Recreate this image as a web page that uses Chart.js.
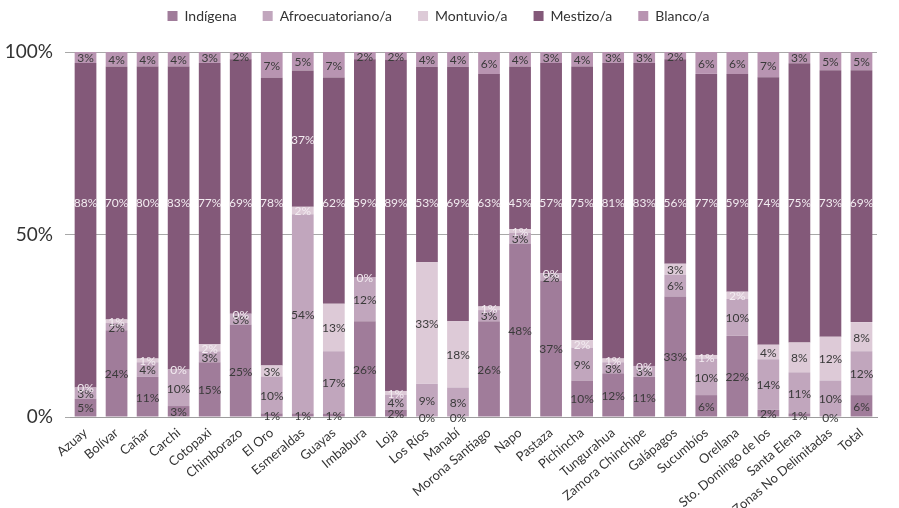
<!DOCTYPE html>
<html>
<head>
<meta charset="utf-8">
<script src="https://cdn.jsdelivr.net/npm/chart.js@4.4.0/dist/chart.umd.min.js"></script>
<style>
    html, body { margin: 0; padding: 0; background: #fff; }
    #wrap { width: 899px; height: 508px; }
</style>
</head>
<body>
<div id="wrap"><canvas id="chart"></canvas></div>
<script>
    "use strict";

    var provincias = ["Azuay", "Bolívar", "Cañar", "Carchi", "Cotopaxi", "Chimborazo", "El Oro", "Esmeraldas",
        "Guayas", "Imbabura", "Loja", "Los Ríos", "Manabí", "Morona Santiago", "Napo", "Pastaza", "Pichincha",
        "Tungurahua", "Zamora Chinchipe", "Galápagos", "Sucumbíos", "Orellana", "Sto. Domingo de los",
        "Santa Elena", "Zonas No Delimitadas", "Total"];

    var indigena = [5, 24, 11, 3, 15, 25, 1, 1, 1, 26, 2, 0, 0, 26, 48, 37, 10, 12, 11, 33, 6, 22, 2, 1, 0, 6];
    var afro     = [3, 2, 4, 10, 3, 3, 10, 54, 17, 12, 4, 9, 8, 3, 3, 2, 9, 3, 3, 6, 10, 10, 14, 11, 10, 12];
    var montuvio = [0, 1, 1, 0, 2, 0, 3, 2, 13, 0, 1, 33, 18, 1, 1, 0, 2, 1, 0, 3, 1, 2, 4, 8, 12, 8];
    var mestizo  = [88, 70, 80, 83, 77, 69, 78, 37, 62, 59, 89, 53, 69, 63, 45, 57, 75, 81, 83, 56, 77, 59, 74, 75, 73, 69];
    var blanco   = [3, 4, 4, 4, 3, 2, 7, 5, 7, 2, 2, 4, 4, 6, 4, 3, 4, 3, 3, 2, 6, 6, 7, 3, 5, 5];

    var yTicks = [0, 50, 100];

    var fuente = "Lato, 'Open Sans', sans-serif";

    // each bar is stacked to 100%, so every value is taken as a share of its column total
    function share(serie) {
        return serie.map(function (v, i) {
            var total = indigena[i] + afro[i] + montuvio[i] + mestizo[i] + blanco[i];
            return v / total * 100;
        });
    }

    function serie(nombre, valores, color, texto) {
        return {
            label: nombre,
            data: share(valores),
            etiquetas: valores,
            colorTexto: texto,
            backgroundColor: color,
            borderWidth: 0,
            barPercentage: 0.7,
            categoryPercentage: 1.0
        };
    }

    var datasets = [
        serie("Indígena", indigena, "#a07c9a", "#3a3a3a"),
        serie("Afroecuatoriano/a", afro, "#c1a6bd", "#3a3a3a"),
        serie("Montuvio/a", montuvio, "#ddcad7", "#3a3a3a"),
        serie("Mestizo/a", mestizo, "#835979", "#f3ecf1"),
        serie("Blanco/a", blanco, "#b894b1", "#3a3a3a")
    ];
    datasets[3].lineaFija = 59;   // mestizo labels run along one line across the bars

    var etiquetasPlugin = {
        id: "etiquetas",
        afterDatasetsDraw: function (chart) {
            var ctx = chart.ctx;
            var y = chart.scales.y;
            ctx.save();
            ctx.font = "12px " + fuente;
            ctx.textAlign = "center";
            ctx.textBaseline = "middle";
            chart.data.datasets.forEach(function (ds, d) {
                var meta = chart.getDatasetMeta(d);
                meta.data.forEach(function (bar, i) {
                    var v = ds.etiquetas[i];
                    var top = bar.y, base = bar.base;
                    var cy = (top + base) / 2;
                    if (ds.lineaFija !== undefined) {
                        var fy = y.getPixelForValue(ds.lineaFija);
                        if (fy > top + 10 && fy < base - 10)
                            cy = fy;
                    }
                    var color = ds.colorTexto;
                    if (d === 2 && v <= 2)
                        color = "#f3ecf1";
                    ctx.fillStyle = color;
                    ctx.fillText(v + "%", bar.x, cy + 1);
                });
            });
            ctx.restore();
        }
    };

    // legend keeps wide gaps between items but a fixed height above the plot
    var altoLeyenda = {
        id: "altoLeyenda",
        beforeInit: function (chart) {
            var fit = chart.legend.fit;
            chart.legend.fit = function () {
                fit.bind(chart.legend)();
                this.height = 69;
            };
        }
    };

    var ctx = document.getElementById("chart").getContext("2d");
    var grafico = new Chart(ctx, {
        type: "bar",
        data: {labels: provincias, datasets: datasets},
        plugins: [etiquetasPlugin, altoLeyenda],
        options: {
            responsive: true,
            maintainAspectRatio: false,
            animation: false,
            layout: {padding: {left: 0, right: 22, top: -17, bottom: 0}},
            plugins: {
                tooltip: {enabled: false},
                legend: {
                    position: "top",
                    labels: {
                        boxWidth: 10,
                        boxHeight: 10,
                        padding: 26,
                        color: "#333",
                        font: {family: fuente, size: 14}
                    }
                }
            },
            scales: {
                x: {
                    stacked: true,
                    grid: {display: false},
                    border: {display: true, color: "#9c9c9c"},
                    ticks: {
                        color: "#333",
                        font: {family: fuente, size: 13},
                        maxRotation: 40,
                        minRotation: 40,
                        autoSkip: false,
                        padding: 0
                    },
                    afterFit: function (scale) { scale.height = 91; }
                },
                y: {
                    stacked: true,
                    min: 0,
                    max: 100,
                    afterBuildTicks: function (scale) {
                        scale.ticks = yTicks.map(function (v) { return {value: v}; });
                    },
                    grid: {color: "#a8a8a8", tickLength: 5, drawTicks: true},
                    border: {display: false},
                    ticks: {
                        color: "#333",
                        padding: 12,
                        font: {family: fuente, size: 19},
                        callback: function (v) { return v + "%"; }
                    },
                    afterFit: function (scale) { scale.width = 70; }
                }
            }
        }
    });
</script>
</body>
</html>
